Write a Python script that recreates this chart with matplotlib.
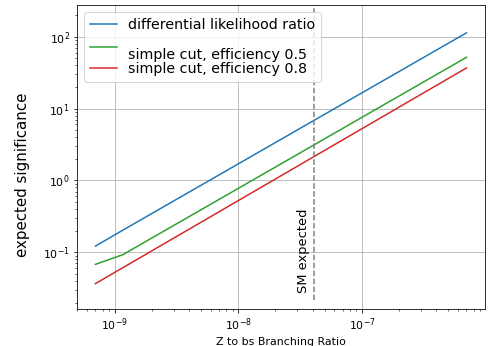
import numpy as np
import matplotlib
matplotlib.use("Agg")
import matplotlib.pyplot as plt

# branching ratio scan (endpoints + kink)
br = [7e-10, 1.17e-9, 7e-7]
sig_dlr = [0.122, 0.204, 113.0]
sig_cut05 = [0.068, 0.093, 51.6]
sig_cut08 = [0.0367, 0.0613, 36.7]
br_sm = 4.12e-8

fig, ax = plt.subplots(figsize=(489 / 72, 346 / 72), dpi=72)
ax.plot(br, sig_dlr, color="C0", label="differential likelihood ratio")
ax.plot(br, sig_cut05, color="C2", label="\nsimple cut, efficiency 0.5")
ax.plot(br, sig_cut08, color="C3", label="simple cut, efficiency 0.8")
ax.plot([br_sm, br_sm], [0.0215, 1000], "--", color="gray")
ax.text(br_sm * 0.93, 0.027, "SM expected", rotation=90, ha="right", va="bottom", fontsize=13)

ax.set_xscale("log")
ax.set_yscale("log")
ax.set_xlim(4.95e-10, 9.9e-7)
ax.set_ylim(0.0163, 277)
ax.tick_params(labelsize=11)
ax.set_xlabel("Z to bs Branching Ratio", fontsize=11)
ax.set_ylabel("expected significance", fontsize=15)
ax.yaxis.set_label_coords(-0.115, 0.44)
ax.grid()
ax.legend(loc="upper left", fontsize=14.2, labelspacing=0, handlelength=1.9)
fig.subplots_adjust(left=0.157, right=0.992, top=0.986, bottom=0.107)
fig.savefig("out.png")
